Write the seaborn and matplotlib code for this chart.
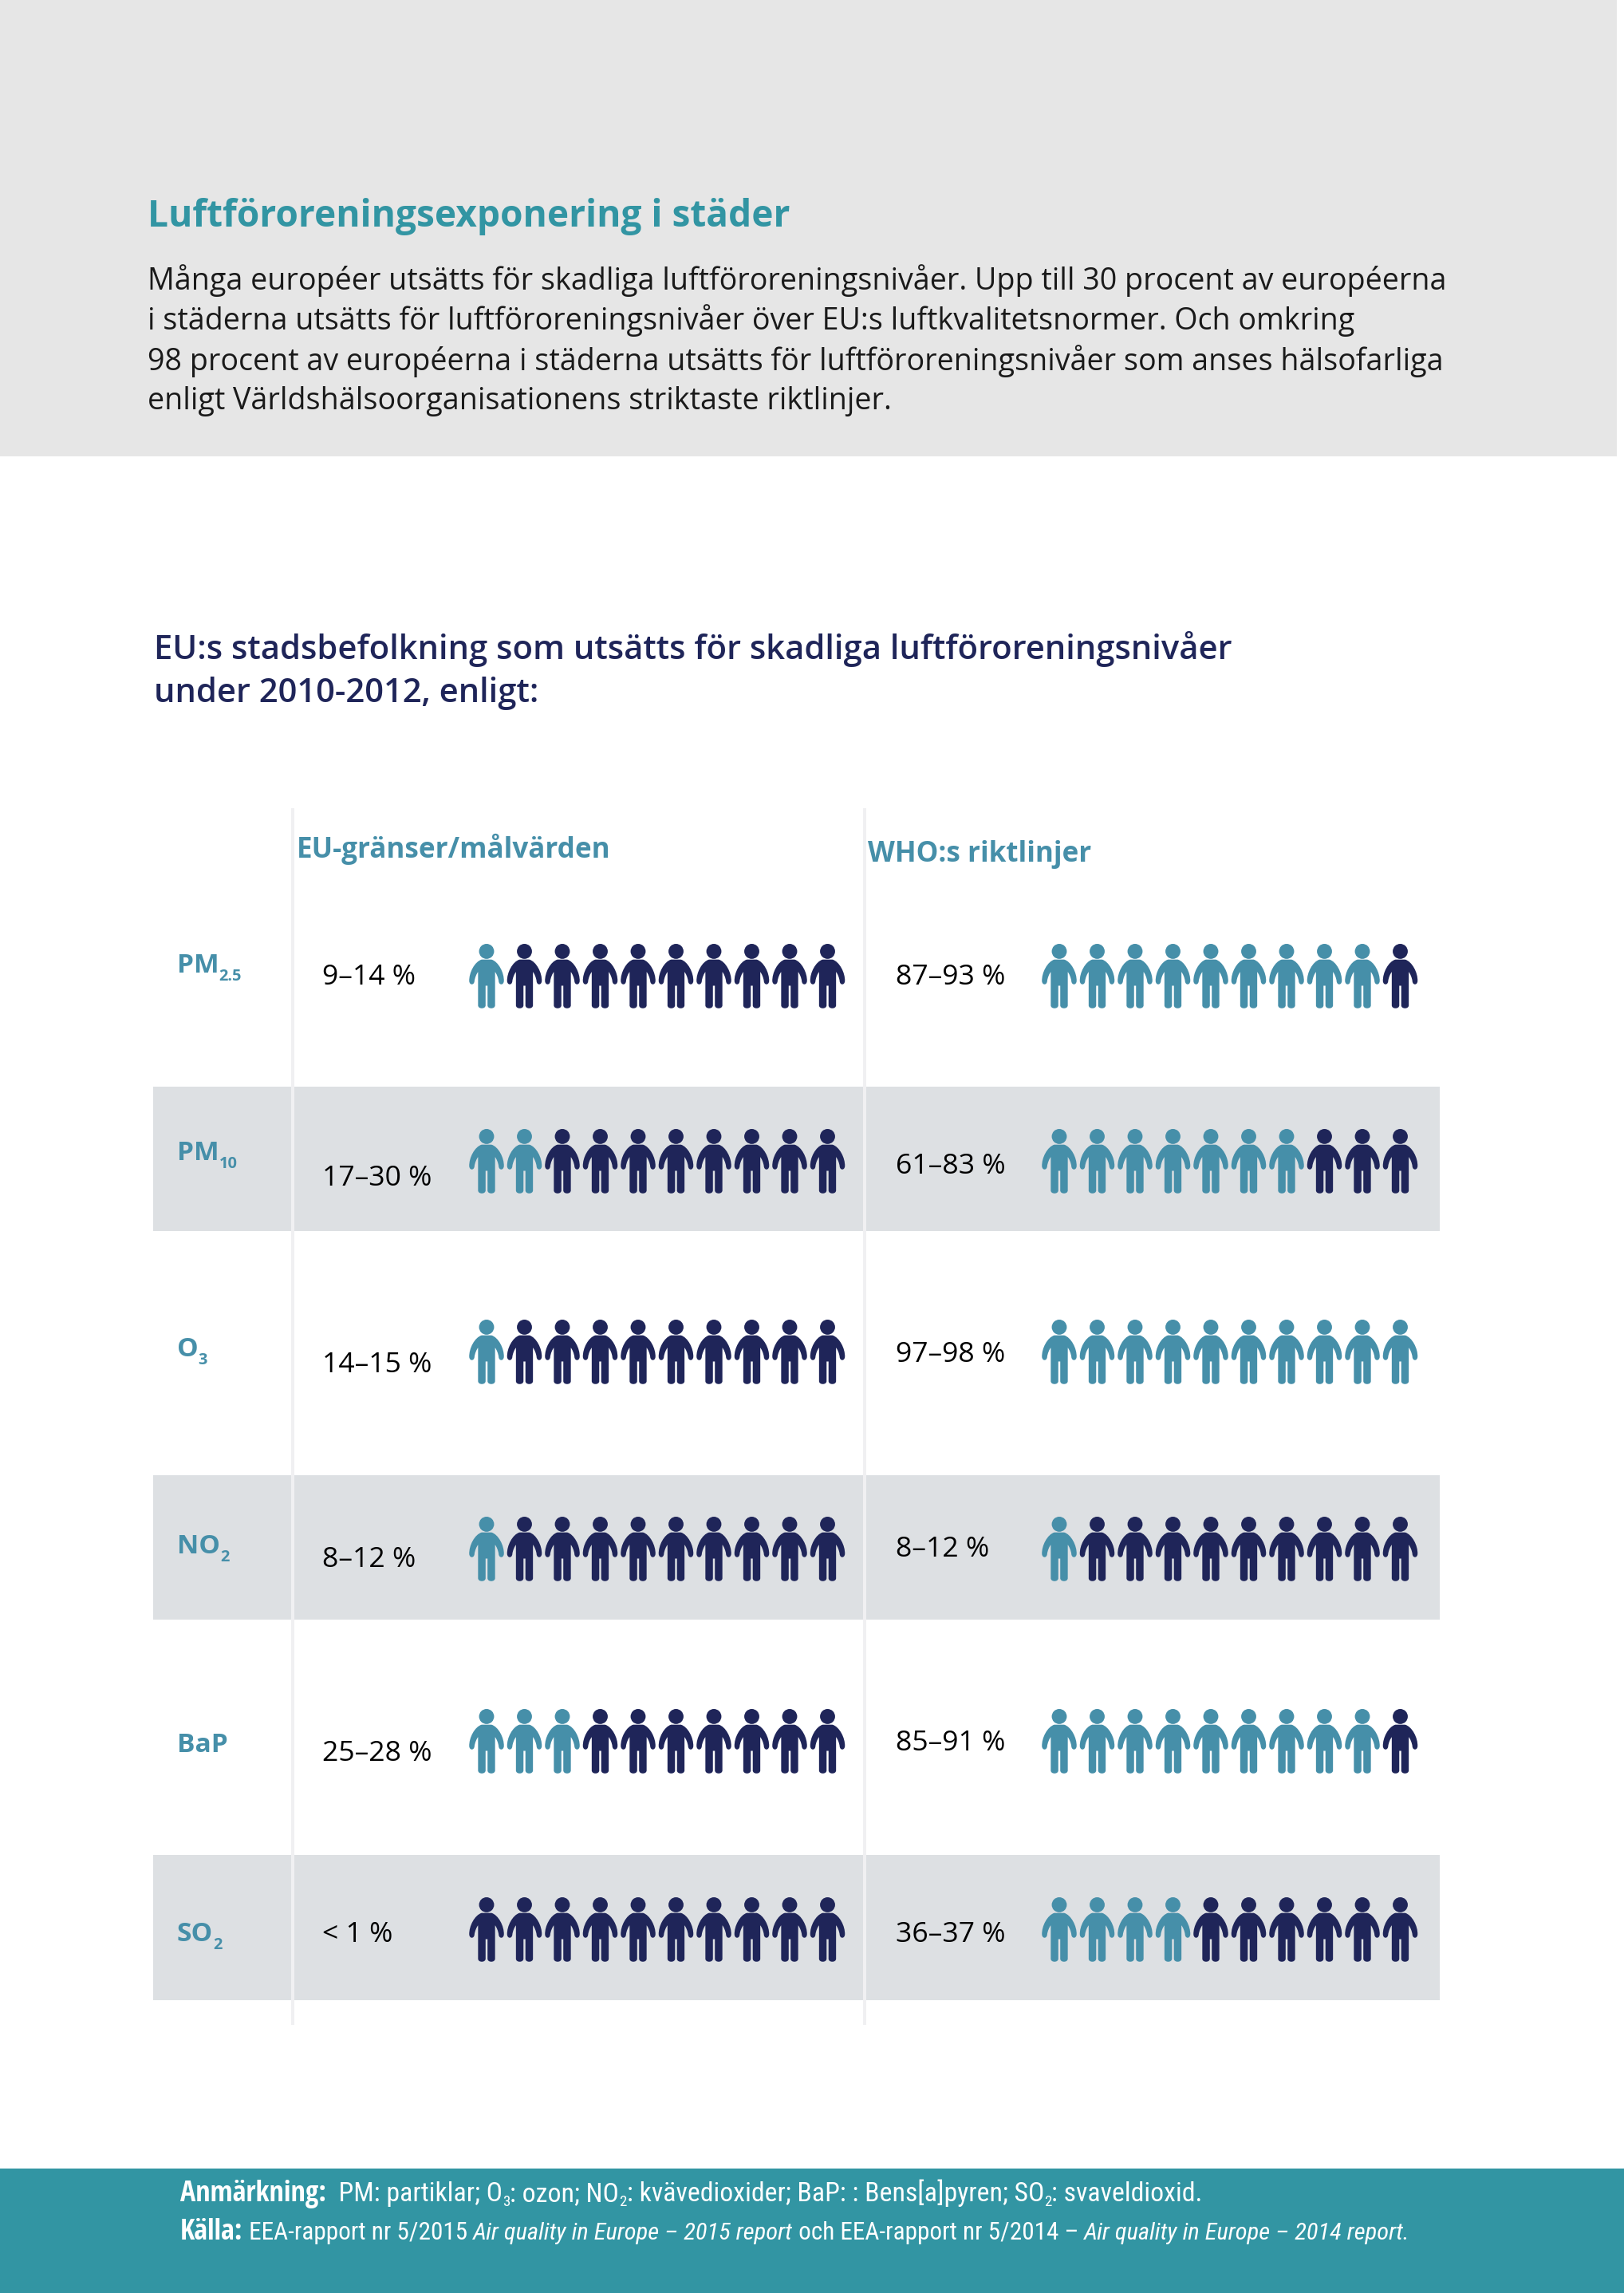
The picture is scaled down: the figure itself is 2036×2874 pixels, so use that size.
import numpy as np
import pandas as pd
import seaborn as sns
import matplotlib.pyplot as plt
from matplotlib.path import Path
from matplotlib.patches import Rectangle

# -----------------------------
# Data
# -----------------------------
pollutants = ["PM", "PM", "O", "NO", "BaP", "SO"]
pollutant_subs = ["2.5", "10", "3", "2", "", "2"]
eu_ranges = ["9–14 %", "17–30 %", "14–15 %", "8–12 %", "25–28 %", "< 1 %"]
who_ranges = ["87–93 %", "61–83 %", "97–98 %", "8–12 %", "85–91 %", "36–37 %"]
eu_people = [1, 2, 1, 1, 3, 0]
who_people = [9, 7, 10, 1, 9, 4]
people_per_row = 10

title = "Luftföroreningsexponering i städer"
intro_lines = [
    "Många européer utsätts för skadliga luftföroreningsnivåer. Upp till 30 procent av européerna",
    "i städerna utsätts för luftföroreningsnivåer över EU:s luftkvalitetsnormer. Och omkring",
    "98 procent av européerna i städerna utsätts för luftföroreningsnivåer som anses hälsofarliga",
    "enligt Världshälsoorganisationens striktaste riktlinjer.",
]
subtitle_lines = [
    "EU:s stadsbefolkning som utsätts för skadliga luftföroreningsnivåer",
    "under 2010-2012, enligt:",
]

# -----------------------------
# Layout, in pixels of the 2036x2874 page
# -----------------------------
W, H = 2036, 2874
DPI = 100
TEAL = "#3295a3"
BLUE = "#468fa9"
NAVY = "#1f2559"
ROW_Y = [1224, 1456, 1695, 1942, 2183, 2419]
LABEL_Y = [1219, 1454, 1700, 1947, 2196, 2433]
EU_VALUE_Y = [1234, 1486, 1720, 1964, 2207, 2434]
WHO_VALUE_Y = [1234, 1471, 1707, 1951, 2194, 2434]
BANDS = [(1362, 1543), (1849, 2030), (2325, 2507)]
FOOT_REG = ["Roboto Condensed", "Open Sans", "DejaVu Sans"]
FOOT_BOLD = ["Open Sans Condensed", "Roboto Condensed", "Open Sans", "DejaVu Sans"]
NOTE_SIZE = 33.8
SOURCE_SIZE = 31.3
SOURCE_ITALIC_SIZE = 30.5
FOOT_BOLD_SIZE = 36
FOOT_SUB_SIZE = 19


def px(size):
    return size * 72 / DPI


def person_marker():
    head = Path.circle((0, 0.77), 0.23)
    verts = [
        (-0.15, 0.52),
        (-0.36, 0.46), (-0.54, 0.12), (-0.53, -0.14),
        (-0.52, -0.27), (-0.38, -0.27), (-0.37, -0.14),
        (-0.36, -0.04), (-0.30, 0.10), (-0.26, 0.14),
        (-0.26, -0.88),
        (-0.26, -1.0), (-0.03, -1.0), (-0.03, -0.88),
        (-0.03, -0.28), (0.03, -0.28),
        (0.03, -0.88),
        (0.03, -1.0), (0.26, -1.0), (0.26, -0.88),
        (0.26, 0.14),
        (0.30, 0.10), (0.36, -0.04), (0.37, -0.14),
        (0.38, -0.27), (0.52, -0.27), (0.53, -0.14),
        (0.54, 0.12), (0.36, 0.46), (0.15, 0.52),
        (-0.15, 0.52),
    ]
    codes = [Path.MOVETO,
             Path.CURVE4, Path.CURVE4, Path.CURVE4,
             Path.CURVE4, Path.CURVE4, Path.CURVE4,
             Path.CURVE4, Path.CURVE4, Path.CURVE4,
             Path.LINETO,
             Path.CURVE4, Path.CURVE4, Path.CURVE4,
             Path.LINETO, Path.LINETO,
             Path.LINETO,
             Path.CURVE4, Path.CURVE4, Path.CURVE4,
             Path.LINETO,
             Path.CURVE4, Path.CURVE4, Path.CURVE4,
             Path.CURVE4, Path.CURVE4, Path.CURVE4,
             Path.CURVE4, Path.CURVE4, Path.CURVE4,
             Path.CLOSEPOLY]
    return Path.make_compound_path(head, Path(verts, codes))


def people_frame(counts):
    rows = []
    for row, count in enumerate(counts):
        for i in range(people_per_row):
            rows.append({"person": i, "row": ROW_Y[row], "exposed": i < count})
    return pd.DataFrame(rows)


def draw_people(counts, left):
    # one axis unit per person, y stays in page pixels
    ax = fig.add_axes([left / W, 0, people_per_row * 47.5 / W, 1])
    sns.scatterplot(
        data=people_frame(counts),
        x="person",
        y="row",
        hue="exposed",
        hue_order=[True, False],
        palette=[BLUE, NAVY],
        marker=person_marker(),
        s=px(82) ** 2,
        linewidth=0,
        legend=False,
        ax=ax,
    )
    ax.set_xlim(-0.5, people_per_row - 0.5)
    ax.set_ylim(H, 0)
    ax.axis("off")
    ax.patch.set_alpha(0)


def write_runs(x, y, runs, family=None, bold_family=None):
    # runs are (string, size in px, weight, style, colour, drop)
    for string, size, weight, style, colour, drop in runs:
        kw = {}
        if family is not None:
            kw["family"] = bold_family if weight == "bold" else family
        t = page.text(x, y + drop, string, fontsize=px(size), fontweight=weight,
                      fontstyle=style, color=colour, va="baseline", ha="left", **kw)
        x = t.get_window_extent(renderer).x1


sns.set_theme(style="white")
plt.rcParams["font.family"] = ["Open Sans", "Noto Sans", "DejaVu Sans"]

fig = plt.figure(figsize=(W / DPI, H / DPI), dpi=DPI, facecolor="white")
renderer = fig.canvas.get_renderer()
page = fig.add_axes([0, 0, 1, 1])
page.set_xlim(0, W)
page.set_ylim(H, 0)
page.axis("off")

# backgrounds
page.add_patch(Rectangle((0, 0), 2027, 572, color="#e6e6e6", lw=0))
page.add_patch(Rectangle((0, 2718), W, H - 2718, color=TEAL, lw=0))
for top, bottom in BANDS:
    page.add_patch(Rectangle((192, top), 1613, bottom - top, color="#dde0e3", lw=0))
for x in (367, 1084):
    page.add_patch(Rectangle((x - 2, 1013), 4, 1525, color="#f0f0f2", lw=0))

# header
page.text(185, 284, title, fontsize=px(46), fontweight="bold", color=TEAL)
for line, y in zip(intro_lines, [363, 413, 464, 513]):
    page.text(185, y, line, fontsize=px(37.6), color="#1a1a1a")
for line, y in zip(subtitle_lines, [826, 880]):
    page.text(193, y, line, fontsize=px(41.7), fontweight="semibold", color=NAVY)

# table
page.text(372, 1075, "EU-gränser/målvärden", fontsize=px(35), fontweight="bold", color=BLUE)
page.text(1088, 1080, "WHO:s riktlinjer", fontsize=px(35), fontweight="bold", color=BLUE)
for i, name in enumerate(pollutants):
    write_runs(222, LABEL_Y[i], [
        (name, 33.5, "bold", "normal", BLUE, 0),
        (pollutant_subs[i], 20, "bold", "normal", BLUE, 10),
    ])
    page.text(404, EU_VALUE_Y[i], eu_ranges[i], fontsize=px(35.5), color="black")
    page.text(1123, WHO_VALUE_Y[i], who_ranges[i], fontsize=px(35.5), color="black")

draw_people(eu_people, 610 - 23.75)
draw_people(who_people, 1328 - 23.75)

# footer
write_runs(226, 2759, [
    ("Anmärkning:", FOOT_BOLD_SIZE, "bold", "normal", "white", 0),
    ("  PM: partiklar; O", NOTE_SIZE, "normal", "normal", "white", 0),
    ("3", FOOT_SUB_SIZE, "normal", "normal", "white", 6),
    (": ozon; NO", NOTE_SIZE, "normal", "normal", "white", 0),
    ("2", FOOT_SUB_SIZE, "normal", "normal", "white", 6),
    (": kvävedioxider; BaP: : Bens[a]pyren; SO", NOTE_SIZE, "normal", "normal", "white", 0),
    ("2", FOOT_SUB_SIZE, "normal", "normal", "white", 6),
    (": svaveldioxid.", NOTE_SIZE, "normal", "normal", "white", 0),
], family=FOOT_REG, bold_family=FOOT_BOLD)
write_runs(226, 2807, [
    ("Källa:", FOOT_BOLD_SIZE, "bold", "normal", "white", 0),
    (" EEA-rapport nr 5/2015 ", SOURCE_SIZE, "normal", "normal", "white", 0),
    ("Air quality in Europe – 2015 report", SOURCE_ITALIC_SIZE, "normal", "italic", "white", 0),
    (" och EEA-rapport nr 5/2014 – ", SOURCE_SIZE, "normal", "normal", "white", 0),
    ("Air quality in Europe – 2014 report.", SOURCE_ITALIC_SIZE, "normal", "italic", "white", 0),
], family=FOOT_REG, bold_family=FOOT_BOLD)

fig.savefig("out.png", dpi=DPI)
